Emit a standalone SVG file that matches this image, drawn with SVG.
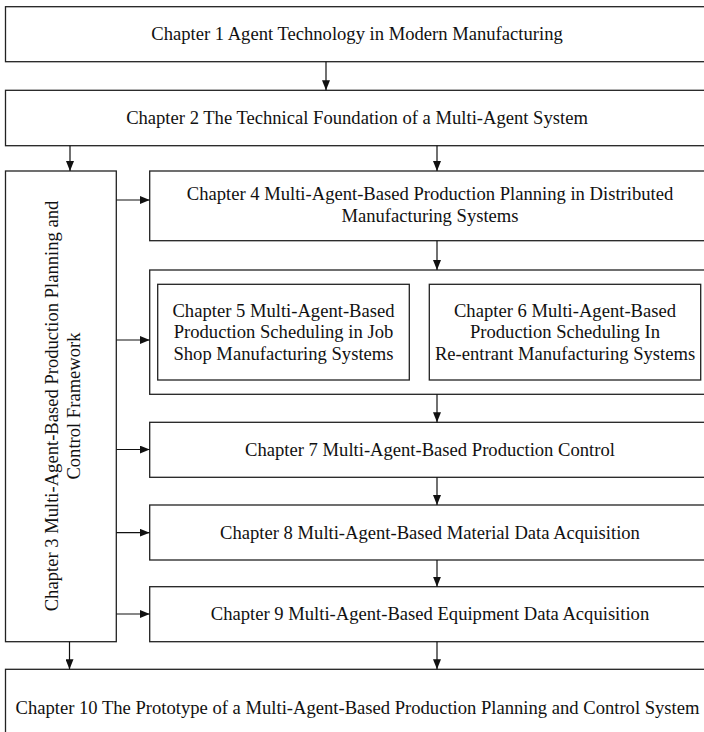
<svg xmlns="http://www.w3.org/2000/svg" width="704" height="732" viewBox="0 0 704 732">
<style>
.box{fill:#fff;stroke:#222;stroke-width:1.3}
.t{font-family:"Liberation Serif","Times New Roman",serif;font-size:18.6px;fill:#111;text-anchor:middle}
.c{fill:none;stroke:#111;stroke-width:1.2}
</style>
<defs>
<marker id="ah" markerUnits="userSpaceOnUse" markerWidth="10" markerHeight="8" refX="10" refY="4" orient="auto">
<path d="M0,0 L10,4 L0,8 z" fill="#111"/>
</marker>
</defs>
<rect width="704" height="732" fill="#fff"/>
<g id="ch1"><rect class="box" x="5.5" y="6.7" width="704" height="55"/><text class="t" x="357" y="40.3">Chapter 1 Agent Technology in Modern Manufacturing</text></g>
<g id="ch2"><rect class="box" x="5.5" y="90.3" width="704" height="55.4"/><text class="t" x="357" y="124">Chapter 2 The Technical Foundation of a Multi-Agent System</text></g>
<g id="ch3"><rect class="box" x="5.5" y="171" width="110.8" height="470.7"/><text class="t" transform="translate(58,406) rotate(-90)">Chapter 3 Multi-Agent-Based Production Planning and</text><text class="t" transform="translate(79.6,406) rotate(-90)">Control Framework</text></g>
<g id="ch4"><rect class="box" x="149.7" y="171" width="560" height="69.7"/><text class="t" x="430" y="200">Chapter 4 Multi-Agent-Based Production Planning in Distributed</text><text class="t" x="430" y="221.6">Manufacturing Systems</text></g>
<g id="group56"><rect class="box" x="149.7" y="270" width="560" height="124.3"/></g>
<g id="ch5"><rect class="box" x="157.7" y="284.3" width="251.6" height="95.7"/><text class="t" x="283.5" y="316.7">Chapter 5 Multi-Agent-Based</text><text class="t" x="283.5" y="338.3">Production Scheduling in Job</text><text class="t" x="283.5" y="360">Shop Manufacturing Systems</text></g>
<g id="ch6"><rect class="box" x="429.3" y="284.3" width="271.4" height="95.7"/><text class="t" x="565" y="316.7">Chapter 6 Multi-Agent-Based</text><text class="t" x="565" y="338.3">Production Scheduling In</text><text class="t" x="565" y="360">Re-entrant Manufacturing Systems</text></g>
<g id="ch7"><rect class="box" x="149.7" y="422.3" width="560" height="55"/><text class="t" x="430" y="456">Chapter 7 Multi-Agent-Based Production Control</text></g>
<g id="ch8"><rect class="box" x="149.7" y="505" width="560" height="55"/><text class="t" x="430" y="538.7">Chapter 8 Multi-Agent-Based Material Data Acquisition</text></g>
<g id="ch9"><rect class="box" x="149.7" y="586.7" width="560" height="55"/><text class="t" x="430" y="620.4">Chapter 9 Multi-Agent-Based Equipment Data Acquisition</text></g>
<g id="ch10"><rect class="box" x="5.5" y="669.3" width="704" height="80"/><text class="t" x="357.5" y="714">Chapter 10 The Prototype of a Multi-Agent-Based Production Planning and Control System</text></g>
<g id="connectors">
<line class="c" x1="326" y1="61.7" x2="326" y2="90.3" marker-end="url(#ah)"/>
<line class="c" x1="70" y1="145.7" x2="70" y2="171" marker-end="url(#ah)"/>
<line class="c" x1="437" y1="145.7" x2="437" y2="171" marker-end="url(#ah)"/>
<line class="c" x1="116.3" y1="200" x2="149.7" y2="200" marker-end="url(#ah)"/>
<line class="c" x1="116.3" y1="340" x2="149.7" y2="340" marker-end="url(#ah)"/>
<line class="c" x1="116.3" y1="449.5" x2="149.7" y2="449.5" marker-end="url(#ah)"/>
<line class="c" x1="116.3" y1="532.7" x2="149.7" y2="532.7" marker-end="url(#ah)"/>
<line class="c" x1="116.3" y1="614" x2="149.7" y2="614" marker-end="url(#ah)"/>
<line class="c" x1="437" y1="240.7" x2="437" y2="270" marker-end="url(#ah)"/>
<line class="c" x1="437" y1="394.3" x2="437" y2="422.3" marker-end="url(#ah)"/>
<line class="c" x1="437" y1="477.3" x2="437" y2="505" marker-end="url(#ah)"/>
<line class="c" x1="437" y1="560" x2="437" y2="586.7" marker-end="url(#ah)"/>
<line class="c" x1="437" y1="641.7" x2="437" y2="669.3" marker-end="url(#ah)"/>
<line class="c" x1="69.5" y1="641.7" x2="69.5" y2="669.3" marker-end="url(#ah)"/>
</g>
</svg>
